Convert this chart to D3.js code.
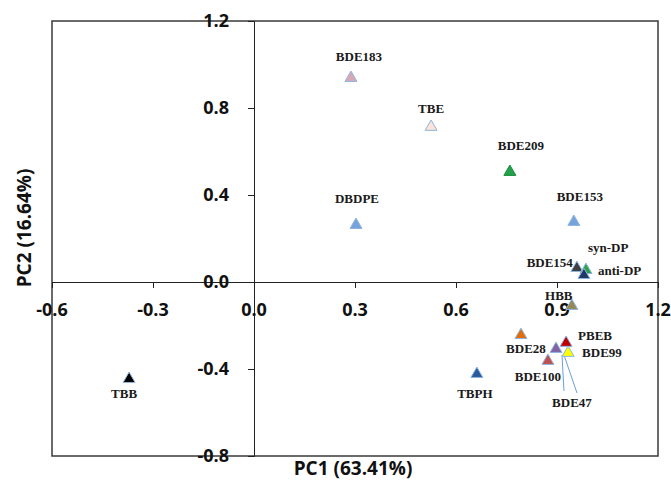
<!DOCTYPE html>
<html>
<head>
<meta charset="utf-8">
<script src="https://cdn.jsdelivr.net/npm/d3@7"></script>
<style>
    body { margin: 0; background: #fff; }
    .tick-label { font-family: "Open Sans", sans-serif; font-weight: 700; font-size: 18px; fill: #111; }
    .axis-title { font-family: "Open Sans", sans-serif; font-weight: 700; font-size: 19px; fill: #111; }
    .pt-label { font-family: "Liberation Serif", "Times New Roman", serif; font-weight: 700; font-size: 13px; fill: #1a1a1a; }
</style>
</head>
<body>
<div class="chart"></div>
<script>
// compounds and their PCA loadings
const names = ["BDE183", "TBE", "BDE209", "DBDPE", "BDE153", "BDE154", "syn-DP", "anti-DP",
    "HBB", "BDE28", "PBEB", "BDE47", "BDE99", "BDE100", "TBB", "TBPH"];
const pc1 = [0.288, 0.526, 0.760, 0.303, 0.950, 0.959, 0.986, 0.980,
    0.944, 0.793, 0.927, 0.897, 0.933, 0.873, -0.371, 0.662];
const pc2 = [0.938, 0.713, 0.506, 0.262, 0.276, 0.064, 0.055, 0.032,
    -0.110, -0.244, -0.280, -0.308, -0.326, -0.363, -0.446, -0.423];
const xTicks = [-0.6, -0.3, 0.0, 0.3, 0.6, 0.9, 1.2];
const yTicks = [1.2, 0.8, 0.4, 0.0, -0.4, -0.8];

const fills = {
    "BDE183": "#d9a9b3", "TBE": "#fce4d6", "BDE209": "#22a04a", "DBDPE": "#76a3dc",
    "BDE153": "#76a3dc", "BDE154": "#404040", "syn-DP": "#2aa34a", "anti-DP": "#1f3864",
    "HBB": "#948a54", "BDE28": "#e36c09", "PBEB": "#c00000", "BDE47": "#8064a2",
    "BDE99": "#ffff00", "BDE100": "#c0504d", "TBB": "#000000", "TBPH": "#2a5a9a"
};

// label placement relative to each marker: [dx, dy, anchor]
const labelPos = {
    "BDE183": [8, -21, "middle"], "TBE": [0, -18, "middle"], "BDE209": [11, -26, "middle"],
    "DBDPE": [1, -27, "middle"], "BDE153": [6, -25, "middle"], "BDE154": [-4, -6, "end"],
    "syn-DP": [2, -23, "start"], "anti-DP": [14, -5, "start"], "HBB": [-13, -10, "middle"],
    "BDE28": [5, 13, "middle"], "PBEB": [12, -7, "start"], "BDE47": [16, 54, "middle"],
    "BDE99": [14, 0, "start"], "BDE100": [-10, 16, "middle"], "TBB": [-5, 14, "middle"],
    "TBPH": [-2, 19, "middle"]
};

const data = names.map((n, i) => ({ name: n, x: pc1[i], y: pc2[i] }));

const w = 671, h = 482;
const margin = { top: 21, right: 13, bottom: 26, left: 52 };
const fmt = d => d3.format('.1f')(d).replace('\u2212', '-');

const svg = d3.select('.chart')
    .append('svg')
    .attr('width', w)
    .attr('height', h);

const xScale = d3.scaleLinear().domain([-0.6, 1.2]).range([margin.left, w - margin.right]);
const yScale = d3.scaleLinear().domain([-0.8, 1.2]).range([h - margin.bottom, margin.top]);

// plot frame
svg.append('rect')
    .attr('x', xScale(-0.6))
    .attr('y', yScale(1.2))
    .attr('width', xScale(1.2) - xScale(-0.6))
    .attr('height', yScale(-0.8) - yScale(1.2))
    .attr('fill', 'none')
    .attr('stroke', '#3a3a3a')
    .attr('stroke-width', 1.5);

// axes crossing at zero
const xAxis = d3.axisBottom(xScale).tickValues(xTicks).tickSize(6).tickFormat('');
svg.append('g')
    .attr('transform', `translate(0, ${yScale(0)})`)
    .call(xAxis)
    .call(g => g.selectAll('path, line').attr('stroke', '#222'));

const yAxis = d3.axisLeft(yScale).tickValues(yTicks).tickSize(6).tickFormat('');
svg.append('g')
    .attr('transform', `translate(${xScale(0)}, 0)`)
    .call(yAxis)
    .call(g => g.selectAll('path, line').attr('stroke', '#222'));

// tick labels
svg.selectAll('.xlab')
    .data(xTicks)
    .enter().append('text')
    .attr('class', 'tick-label')
    .attr('x', d => xScale(d))
    .attr('y', yScale(0) + 34)
    .attr('text-anchor', 'middle')
    .text(fmt);

svg.selectAll('.ylab')
    .data(yTicks)
    .enter().append('text')
    .attr('class', 'tick-label')
    .attr('x', xScale(0) - 25)
    .attr('y', d => yScale(d) + 6)
    .attr('text-anchor', 'end')
    .text(fmt);

// axis titles
svg.append('text')
    .attr('class', 'axis-title')
    .attr('x', 353)
    .attr('y', 475)
    .attr('text-anchor', 'middle')
    .text('PC1 (63.41%)');

svg.append('text')
    .attr('class', 'axis-title')
    .attr('transform', 'rotate(-90)')
    .attr('x', -228)
    .attr('y', 31)
    .attr('text-anchor', 'middle')
    .text('PC2 (16.64%)');

// leader lines for BDE47
const b47 = data.find(d => d.name === "BDE47");
const leaders = [[6, 6, 8, 42], [8, 6, 21, 44]];
svg.selectAll('.leader')
    .data(leaders)
    .enter().append('line')
    .attr('x1', d => xScale(b47.x) + d[0])
    .attr('y1', d => yScale(b47.y) + d[1])
    .attr('x2', d => xScale(b47.x) + d[2])
    .attr('y2', d => yScale(b47.y) + d[3])
    .attr('stroke', '#6e9fd9')
    .attr('stroke-width', 1);

// markers
const tri = d3.symbol().type(d3.symbolTriangle).size(62);
svg.selectAll('.dot')
    .data(data)
    .enter().append('path')
    .attr('class', 'dot')
    .attr('d', tri)
    .attr('transform', d => `translate(${xScale(d.x)}, ${yScale(d.y)})`)
    .attr('fill', d => fills[d.name])
    .attr('stroke', d => d.name === "BDE209" ? '#1a8a3e' : '#8db4e2')
    .attr('stroke-width', 1);

// point labels
svg.selectAll('.pt-label')
    .data(data)
    .enter().append('text')
    .attr('class', 'pt-label')
    .attr('x', d => xScale(d.x) + labelPos[d.name][0])
    .attr('y', d => yScale(d.y) + labelPos[d.name][1] + 4.5)
    .attr('text-anchor', d => labelPos[d.name][2])
    .text(d => d.name);
</script>
</body>
</html>
